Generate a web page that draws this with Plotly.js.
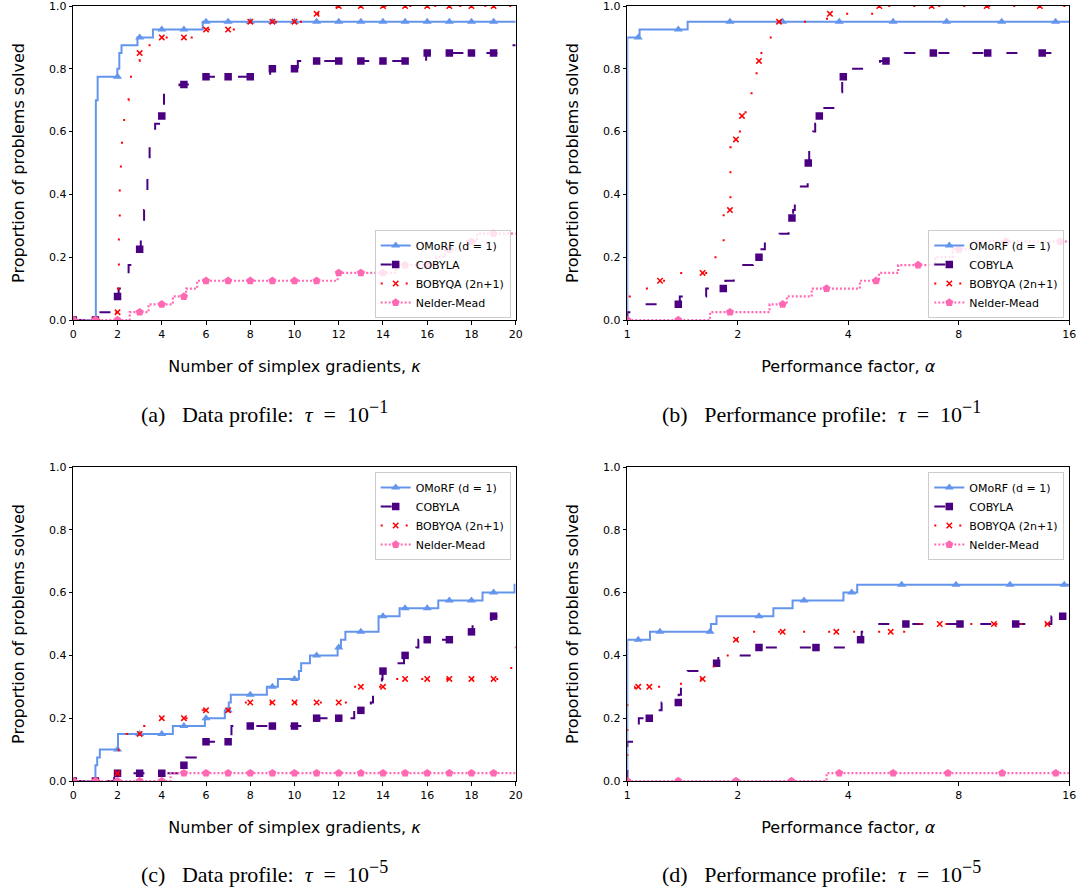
<!DOCTYPE html>
<html>
<head>
<meta charset="utf-8">
<script src="https://cdn.plot.ly/plotly-3.0.1.min.js"></script>
<style>
  html, body { margin: 0; padding: 0; background: #ffffff; }
  #chart { width: 1080px; height: 890px; }
</style>
</head>
<body>
<div id="chart"></div>
<script>
// ---------------- DATA ----------------
const seriesNames = ['OMoRF (d = 1)', 'COBYLA', 'BOBYQA (2n+1)', 'Nelder-Mead'];

// Data-profile marker positions (number of simplex gradients)
const kappaMarks = [0, 1, 2, 3, 4, 5, 6, 7, 8, 9, 10, 11, 12, 13, 14, 15, 16, 17, 18, 19];

// (a) Data profile, tau = 1e-1 : step vertices + marker values
const aOmorfX = [0, 1.02, 1.1, 1.99, 2.08, 2.18, 2.9, 3.6, 5.85, 20];
const aOmorfY = [0, 0.7, 0.775, 0.8, 0.85, 0.875, 0.9, 0.925, 0.95, 0.95];
const aOmorfM = [0, 0, 0.775, 0.9, 0.925, 0.925, 0.95, 0.95, 0.95, 0.95, 0.95, 0.95, 0.95, 0.95, 0.95, 0.95, 0.95, 0.95, 0.95, 0.95];

const aCobylaX = [0, 1.15, 2.0, 2.05, 2.5, 3.0, 3.05, 3.2, 3.35, 3.45, 3.7, 4.0, 4.1, 4.8, 5.9, 8.9, 10.15, 15.95, 19.9, 20];
const aCobylaY = [0, 0.025, 0.075, 0.1, 0.175, 0.225, 0.25, 0.35, 0.45, 0.55, 0.625, 0.65, 0.725, 0.75, 0.775, 0.8, 0.825, 0.85, 0.875, 0.875];
const aCobylaM = [0, 0, 0.075, 0.225, 0.65, 0.75, 0.775, 0.775, 0.775, 0.8, 0.8, 0.825, 0.825, 0.825, 0.825, 0.825, 0.85, 0.85, 0.85, 0.85];

const aBobyqaX = [0, 1.9, 2.02, 2.06, 2.1, 2.15, 2.2, 2.3, 2.4, 2.5, 2.85, 3.0, 3.4, 3.9, 5.9, 7.9, 10.9, 11.9, 20];
const aBobyqaY = [0, 0.025, 0.1, 0.3, 0.45, 0.5, 0.6, 0.65, 0.7, 0.775, 0.825, 0.85, 0.875, 0.9, 0.925, 0.95, 0.975, 1.0, 1.0];
const aBobyqaM = [0, 0, 0.025, 0.85, 0.9, 0.9, 0.925, 0.925, 0.95, 0.95, 0.95, 0.975, 1, 1, 1, 1, 1, 1, 1, 1];

const aNmX = [0, 2.55, 3.4, 4.5, 5.1, 5.6, 11.95, 14.6, 16.4, 16.8, 17.8, 18.25, 20];
const aNmY = [0, 0.025, 0.05, 0.075, 0.1, 0.125, 0.15, 0.175, 0.2, 0.225, 0.25, 0.275, 0.275];
const aNmM = [0, 0, 0, 0.025, 0.05, 0.075, 0.125, 0.125, 0.125, 0.125, 0.125, 0.125, 0.15, 0.15, 0.15, 0.175, 0.175, 0.225, 0.25, 0.275];

// (b) Performance profile, tau = 1e-1
const bOmorfX = [1, 1, 1.08, 1.46, 16];
const bOmorfY = [0, 0.9, 0.925, 0.95, 0.95];
const bOmorfMX = [1.071, 1.377, 1.904, 2.65, 3.78, 5.30, 7.41, 10.47, 14.68];
const bOmorfMY = [0.9, 0.925, 0.95, 0.95, 0.95, 0.95, 0.95, 0.95, 0.95];

const bCobylaX = [1, 1, 1.105, 1.39, 1.64, 1.85, 1.95, 2.07, 2.2, 2.32, 2.37, 2.6, 2.75, 2.8, 2.83, 2.86, 2.95, 3.1, 3.13, 3.21, 3.25, 3.32, 3.4, 3.78, 3.85, 4.09, 4.88, 5.7, 16];
const bCobylaY = [0, 0.025, 0.05, 0.075, 0.1, 0.125, 0.15, 0.175, 0.2, 0.225, 0.25, 0.275, 0.3, 0.325, 0.35, 0.375, 0.425, 0.5, 0.55, 0.6, 0.625, 0.65, 0.675, 0.725, 0.775, 0.8, 0.825, 0.85, 0.85];
const bCobylaMX = [1.377, 1.826, 2.284, 2.809, 3.112, 3.335, 3.877, 5.066, 6.82, 9.59, 13.5];
const bCobylaMY = [0.05, 0.1, 0.2, 0.325, 0.5, 0.65, 0.775, 0.825, 0.85, 0.85, 0.85];

const bBobyqaX = [1, 1, 1.1, 1.2, 1.38, 1.7, 1.8, 1.83, 1.91, 1.95, 1.99, 2.04, 2.1, 2.18, 2.25, 2.3, 2.42, 2.55, 3.5, 4.7, 16];
const bBobyqaY = [0, 0.075, 0.1, 0.125, 0.15, 0.2, 0.25, 0.35, 0.55, 0.575, 0.6, 0.65, 0.7, 0.775, 0.825, 0.85, 0.9, 0.95, 0.975, 1.0, 1.0];
const bBobyqaMX = [1.228, 1.604, 1.904, 1.977, 2.053, 2.284, 2.59, 3.565, 4.86, 6.75, 9.53, 13.3];
const bBobyqaMY = [0.125, 0.15, 0.35, 0.575, 0.65, 0.825, 0.95, 0.975, 1, 1, 1, 1];

const bNmX = [1, 1.68, 2.44, 2.72, 3.18, 4.3, 4.85, 5.47, 6.9, 7.7, 8.7, 16];
const bNmY = [0, 0.025, 0.05, 0.075, 0.1, 0.125, 0.15, 0.175, 0.2, 0.225, 0.25, 0.25];
const bNmMX = [1, 1.377, 1.904, 2.65, 3.49, 4.76, 6.2, 8.0, 10.76, 15.1];
const bNmMY = [0, 0, 0.025, 0.05, 0.1, 0.125, 0.175, 0.225, 0.25, 0.25];

// (c) Data profile, tau = 1e-5
const cOmorfX = [0, 1.0, 1.08, 1.2, 2.02, 4.5, 5.95, 6.85, 7.03, 7.12, 8.75, 9.25, 10.2, 10.3, 10.7, 11.95, 12.1, 12.3, 13.8, 14.75, 16.5, 18.5, 19.95, 20];
const cOmorfY = [0, 0.05, 0.075, 0.1, 0.15, 0.175, 0.2, 0.225, 0.25, 0.275, 0.3, 0.325, 0.35, 0.375, 0.4, 0.425, 0.45, 0.475, 0.525, 0.55, 0.575, 0.6, 0.625, 0.625];
const cOmorfM = [0, 0, 0.1, 0.15, 0.15, 0.175, 0.2, 0.225, 0.275, 0.3, 0.325, 0.4, 0.425, 0.475, 0.525, 0.55, 0.55, 0.575, 0.575, 0.6];

const cCobylaX = [0, 1.85, 4.9, 5.1, 5.95, 7.15, 10.9, 12.7, 13.45, 13.55, 13.9, 13.95, 13.98, 14.6, 14.95, 15.5, 15.6, 17.9, 18.05, 18.9, 20];
const cCobylaY = [0, 0.025, 0.05, 0.075, 0.125, 0.175, 0.2, 0.225, 0.25, 0.275, 0.3, 0.325, 0.35, 0.375, 0.4, 0.425, 0.45, 0.475, 0.5, 0.525, 0.525];
const cCobylaM = [0, 0, 0.025, 0.025, 0.025, 0.05, 0.125, 0.125, 0.175, 0.175, 0.175, 0.2, 0.2, 0.225, 0.35, 0.4, 0.45, 0.45, 0.475, 0.525];

const cBobyqaX = [0, 1.95, 2.05, 2.4, 3.2, 3.5, 5.85, 7.75, 12.65, 14.55, 19.7, 19.8, 19.9, 20];
const cBobyqaY = [0, 0.025, 0.1, 0.15, 0.175, 0.2, 0.225, 0.25, 0.3, 0.325, 0.35, 0.4, 0.425, 0.425];
const cBobyqaM = [0, 0, 0.025, 0.15, 0.2, 0.2, 0.225, 0.225, 0.25, 0.25, 0.25, 0.25, 0.25, 0.3, 0.3, 0.325, 0.325, 0.325, 0.325, 0.325];

const cNmX = [0, 4.4, 20];
const cNmY = [0, 0.025, 0.025];
const cNmM = [0, 0, 0, 0, 0, 0.025, 0.025, 0.025, 0.025, 0.025, 0.025, 0.025, 0.025, 0.025, 0.025, 0.025, 0.025, 0.025, 0.025, 0.025];

// (d) Performance profile, tau = 1e-5
const dOmorfX = [1, 1, 1.153, 1.69, 1.75, 2.5, 2.82, 3.88, 4.23, 16];
const dOmorfY = [0, 0.45, 0.475, 0.5, 0.525, 0.55, 0.575, 0.6, 0.625, 0.625];
const dOmorfMX = [1.071, 1.227, 1.680, 2.284, 3.029, 4.085, 5.59, 7.86, 11.03, 15.5];
const dOmorfMY = [0.45, 0.475, 0.475, 0.525, 0.575, 0.6, 0.625, 0.625, 0.625, 0.625];

const dCobylaX = [1, 1, 1.075, 1.2, 1.24, 1.38, 1.4, 1.46, 1.75, 1.77, 2.22, 4.25, 4.35, 4.8, 14.3, 16];
const dCobylaY = [0, 0.125, 0.2, 0.225, 0.25, 0.275, 0.3, 0.35, 0.375, 0.4, 0.425, 0.45, 0.475, 0.5, 0.525, 0.525];
const dCobylaMX = [1.148, 1.377, 1.751, 2.284, 3.266, 4.32, 5.74, 8.06, 11.43, 15.35];
const dCobylaMY = [0.2, 0.25, 0.375, 0.425, 0.425, 0.45, 0.5, 0.5, 0.5, 0.525];

const dBobyqaX = [1, 1, 1.05, 1.4, 1.65, 1.72, 1.76, 1.9, 2.15, 6.3, 16];
const dBobyqaY = [0, 0.25, 0.3, 0.325, 0.35, 0.375, 0.4, 0.45, 0.475, 0.5, 0.5];
const dBobyqaMX = [1.071, 1.148, 1.604, 1.977, 2.65, 3.71, 5.22, 7.1, 9.97, 13.95];
const dBobyqaMY = [0.3, 0.3, 0.325, 0.45, 0.475, 0.475, 0.475, 0.5, 0.5, 0.5];

const dNmX = [1, 3.49, 16];
const dNmY = [0, 0.025, 0.025];
const dNmMX = [1.0, 1.377, 1.977, 2.80, 3.78, 5.30, 7.47, 10.5, 14.7];
const dNmMY = [0, 0, 0, 0, 0.025, 0.025, 0.025, 0.025, 0.025];

// Tick labels
const yTickVals = [0, 0.2, 0.4, 0.6, 0.8, 1.0];
const yTickText = ['0.0', '0.2', '0.4', '0.6', '0.8', '1.0'];
const kappaTickVals = [0, 2, 4, 6, 8, 10, 12, 14, 16, 18, 20];
const alphaTickVals = [1, 2, 4, 8, 16];
const alphaTickText = ['1', '2', '4', '8', '16'];

const SUP = '<span style="font-size:18px">';
const captions = [
  '(a)\u2002 Data profile:\u2002<i>τ</i>\u2002=\u200210<sup>' + SUP + '−1</span></sup>',
  '(b)\u2002 Performance profile:\u2002<i>τ</i>\u2002=\u200210<sup>' + SUP + '−1</span></sup>',
  '(c)\u2002 Data profile:\u2002<i>τ</i>\u2002=\u200210<sup>' + SUP + '−5</span></sup>',
  '(d)\u2002 Performance profile:\u2002<i>τ</i>\u2002=\u200210<sup>' + SUP + '−5</span></sup>'
];

// ---------------- STYLE ----------------
const styles = [
  {color: '#6495ED', dash: 'solid',     width: 2,   symbol: 'triangle-up', size: 8,   mlw: 0},
  {color: '#4B0082', dash: '11px,23px', width: 2,   symbol: 'square',      size: 7.5, mlw: 0},
  {color: '#FF0000', dash: '2px,23px',  width: 2,   symbol: 'x-thin',      size: 5.4, mlw: 1.5},
  {color: '#FF69B4', dash: '2px,2px',   width: 2.2, symbol: 'pentagon',    size: 8.5, mlw: 0}
];

const W = 1080, H = 890;
const FONT = 'DejaVu Sans, sans-serif';
// subplot pixel boxes [left, right, top, bottom]
const boxes = [
  [73.3, 515.7, 6, 320],
  [627.3, 1069.3, 6, 320],
  [73.3, 515.7, 467, 781],
  [627.3, 1069.3, 467, 781]
];

const panels = [
  {lines: [[aOmorfX, aOmorfY], [aCobylaX, aCobylaY], [aBobyqaX, aBobyqaY], [aNmX, aNmY]],
   marks: [[kappaMarks, aOmorfM], [kappaMarks, aCobylaM], [kappaMarks, aBobyqaM], [kappaMarks, aNmM]], log: false, legendPos: 'bottom'},
  {lines: [[bOmorfX, bOmorfY], [bCobylaX, bCobylaY], [bBobyqaX, bBobyqaY], [bNmX, bNmY]],
   marks: [[bOmorfMX, bOmorfMY], [bCobylaMX, bCobylaMY], [bBobyqaMX, bBobyqaMY], [bNmMX, bNmMY]], log: true, legendPos: 'bottom'},
  {lines: [[cOmorfX, cOmorfY], [cCobylaX, cCobylaY], [cBobyqaX, cBobyqaY], [cNmX, cNmY]],
   marks: [[kappaMarks, cOmorfM], [kappaMarks, cCobylaM], [kappaMarks, cBobyqaM], [kappaMarks, cNmM]], log: false, legendPos: 'top'},
  {lines: [[dOmorfX, dOmorfY], [dCobylaX, dCobylaY], [dBobyqaX, dBobyqaY], [dNmX, dNmY]],
   marks: [[dOmorfMX, dOmorfMY], [dCobylaMX, dCobylaMY], [dBobyqaMX, dBobyqaMY], [dNmMX, dNmMY]], log: true, legendPos: 'top'}
];

const traces = [];
const layout = {
  width: W, height: H,
  margin: {l: 0, r: 0, t: 0, b: 0},
  paper_bgcolor: '#ffffff', plot_bgcolor: '#ffffff',
  font: {family: FONT, color: '#000000', size: 11},
  showlegend: true,
  annotations: []
};

panels.forEach((p, pi) => {
  const n = pi === 0 ? '' : String(pi + 1);
  const xa = 'x' + n, ya = 'y' + n;
  const legId = 'legend' + n;
  const b = boxes[pi];
  p.lines.forEach((ln, si) => {
    const s = styles[si];
    traces.push({
      type: 'scatter', mode: 'lines', x: ln[0], y: ln[1], xaxis: xa, yaxis: ya,
      line: {color: s.color, width: s.width, dash: s.dash, shape: 'hv'},
      showlegend: false, hoverinfo: 'skip', legend: legId
    });
    const mk = p.marks[si];
    traces.push({
      type: 'scatter', mode: 'markers', x: mk[0], y: mk[1], xaxis: xa, yaxis: ya,
      marker: {symbol: s.symbol, size: s.size, color: s.color, line: {color: s.color, width: s.mlw}},
      showlegend: false, hoverinfo: 'skip', legend: legId
    });
  });
  // legend entries
  p.lines.forEach((ln, si) => {
    const s = styles[si];
    traces.push({
      type: 'scatter', mode: 'lines+markers', x: [null], y: [null], xaxis: xa, yaxis: ya,
      name: seriesNames[si], legend: legId, showlegend: true,
      line: {color: s.color, width: s.width, dash: s.dash},
      marker: {symbol: s.symbol, size: s.size, color: s.color, line: {color: s.color, width: s.mlw}}
    });
  });

  const xdom = [b[0] / W, b[1] / W];
  const ydom = [1 - b[3] / H, 1 - b[2] / H];
  const xaxis = {
    domain: xdom, anchor: ya,
    showline: true, mirror: true, linecolor: '#000000', linewidth: 1,
    ticks: 'outside', ticklen: 3.5, tickwidth: 1, tickcolor: '#000000',
    tickfont: {family: FONT, size: 11, color: '#000000'}, ticklabeloverflow: 'allow',
    showgrid: false, zeroline: false, fixedrange: true,
    title: {text: p.log ? 'Performance factor, <i>α</i>' : 'Number of simplex gradients, <i>κ</i>',
            font: {family: FONT, size: 16, color: '#000000'}, standoff: 21}
  };
  if (p.log) {
    Object.assign(xaxis, {type: 'log', range: [0, Math.log10(16)], tickmode: 'array', tickvals: alphaTickVals, ticktext: alphaTickText});
  } else {
    Object.assign(xaxis, {type: 'linear', range: [0, 20], tickmode: 'array', tickvals: kappaTickVals});
  }
  const yaxis = {
    domain: ydom, anchor: xa, range: [0, 1],
    showline: true, mirror: true, linecolor: '#000000', linewidth: 1,
    ticks: 'outside', ticklen: 3.5, tickwidth: 1, tickcolor: '#000000',
    tickmode: 'array', tickvals: yTickVals, ticktext: yTickText,
    tickfont: {family: FONT, size: 11, color: '#000000'}, ticklabeloverflow: 'allow',
    showgrid: false, zeroline: false, fixedrange: true,
    title: {text: 'Proportion of problems solved', font: {family: FONT, size: 16, color: '#000000'}, standoff: 20}
  };
  layout['xaxis' + n] = xaxis;
  layout['yaxis' + n] = yaxis;

  const leg = {
    bgcolor: 'rgba(255,255,255,0.8)', bordercolor: '#cccccc', borderwidth: 1,
    font: {family: FONT, size: 11, color: '#000000'},
    xref: 'paper', yref: 'paper', xanchor: 'right',
    x: (b[1] - 5) / W, traceorder: 'normal', tracegroupgap: 0, itemclick: false, itemdoubleclick: false
  };
  if (p.legendPos === 'bottom') {
    leg.yanchor = 'bottom'; leg.y = 1 - (b[3] - 2) / H;
  } else {
    leg.yanchor = 'top'; leg.y = 1 - (b[2] + 5) / H;
  }
  layout[legId] = leg;

  layout.annotations.push({
    xref: 'paper', yref: 'paper', x: (pi % 2 === 0 ? 264 : 821) / W, y: 1 - (pi < 2 ? 412 : 872) / H,
    xanchor: 'center', yanchor: 'middle', showarrow: false, text: captions[pi],
    font: {family: 'Liberation Serif, Times New Roman, serif', size: 22, color: '#000000'}
  });
});

Plotly.newPlot('chart', traces, layout, {displayModeBar: false, staticPlot: true});
</script>
</body>
</html>
